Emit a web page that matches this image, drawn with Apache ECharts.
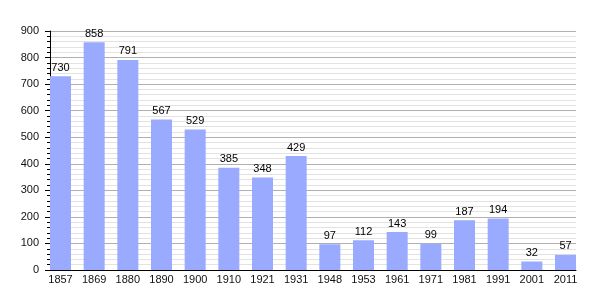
<!DOCTYPE html>
<html>
<head>
<meta charset="utf-8">
<script src="https://cdn.jsdelivr.net/npm/echarts@6/dist/echarts.min.js"></script>
<style>html,body{margin:0;padding:0;background:#fff}#c{width:605px;height:300px}</style>
</head>
<body>
<div id="c"></div>
<script>
const years = ["1857","1869","1880","1890","1900","1910","1921","1931","1948","1953","1961","1971","1981","1991","2001","2011"];
const population = [730, 858, 791, 567, 529, 385, 348, 429, 97, 112, 143, 99, 187, 194, 32, 57];
const yTicks = [0, 100, 200, 300, 400, 500, 600, 700, 800, 900];

const chart = echarts.init(document.getElementById('c'), null, {renderer: 'canvas'});
const font = '"Liberation Sans", Arial, sans-serif';
const idx = years.map((_, i) => i);
chart.setOption({
  animation: false,
  backgroundColor: '#fff',
  grid: {left: 50, right: 29, top: 31, bottom: 30},
  xAxis: {
    type: 'value',
    min: -0.312,
    max: years.length - 1 + 0.312,
    axisLine: {show: true, onZero: false, lineStyle: {color: '#000', width: 1}},
    axisTick: {show: false},
    splitLine: {show: false},
    axisLabel: {
      customValues: idx,
      formatter: v => years[Math.round(v)],
      color: '#111', fontSize: 11, fontFamily: font, margin: 4
    }
  },
  yAxis: {
    type: 'value',
    position: 'left',
    min: yTicks[0],
    max: yTicks[yTicks.length - 1],
    interval: 100,
    axisLine: {show: true, onZero: false, lineStyle: {color: '#000', width: 1}},
    axisTick: {show: true, inside: false, length: 5, lineStyle: {color: '#000'}},
    minorTick: {show: true, splitNumber: 5, length: 3, lineStyle: {color: '#000'}},
    splitLine: {show: true, lineStyle: {color: '#b0b0b0', width: 1}},
    minorSplitLine: {show: true, lineStyle: {color: '#e2e2e2', width: 1}},
    axisLabel: {color: '#111', fontSize: 11, fontFamily: font, margin: 11}
  },
  series: [{
    type: 'bar',
    data: population.map((v, i) => [i, v]),
    barWidth: 21,
    itemStyle: {color: '#99aaff'},
    label: {show: true, position: 'top', distance: 3, color: '#000', fontSize: 11, fontFamily: font,
      formatter: p => p.value[1]}
  }]
});
</script>
</body>
</html>
